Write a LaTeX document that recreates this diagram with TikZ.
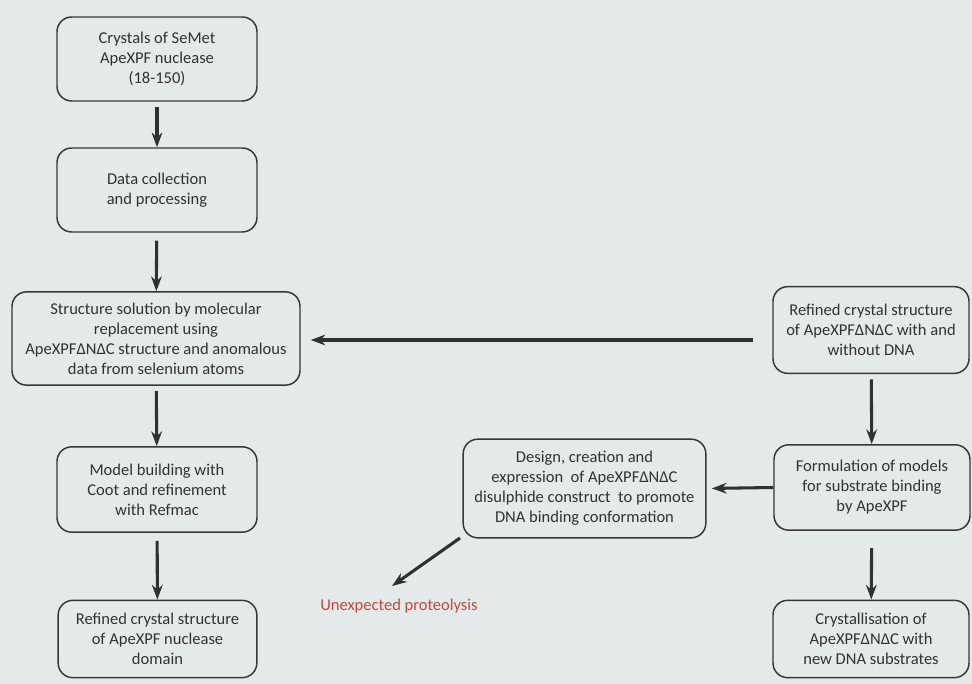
\documentclass[tikz,border=0pt]{standalone}
\usepackage{fontspec}
\setmainfont{Carlito}
\usepackage{xcolor}
\usetikzlibrary{arrows.meta, positioning}

\definecolor{bgcol}{RGB}{228,234,233}
\definecolor{boxline}{RGB}{55,55,55}
\definecolor{txtcol}{RGB}{50,50,50}
\definecolor{redtxt}{RGB}{198,72,60}

\tikzset{
    stage/.style={draw=boxline, line width=1.1pt, rounded corners=11pt,
        align=center, text=txtcol, font=\fontsize{12.4}{15}\selectfont,
        inner sep=2pt},
    flow/.style={-{Stealth[length=11pt, width=8pt]}, line width=2.3pt,
        draw=boxline!90!black}
}

\begin{document}
\begin{tikzpicture}[x=0.75pt, y=-0.75pt]
    % 1. Nền
    \fill[bgcol] (0,0) rectangle (972,684);
    \useasboundingbox (0,0) rectangle (972,684);

    % 2. Cột bên trái
    \node[stage, minimum width=150pt, minimum height=63pt] (cryst) at (157,59)
        {Crystals of SeMet\\ApeXPF nuclease\\(18-150)};
    \node[stage, minimum width=150pt, minimum height=63pt] (datacol) at (157,190)
        {Data collection\\and processing};
    \node[stage, minimum width=216pt, minimum height=70pt] (solution) at (156,338.5)
        {Structure solution by molecular\\replacement using\\ApeXPFΔNΔC structure and anomalous\\data from selenium atoms};
    \node[stage, minimum width=150pt, minimum height=64pt] (model) at (157,489.5)
        {Model building with\\Coot and refinement\\with Refmac};
    \node[stage, minimum width=149pt, minimum height=58pt] (refnuc) at (157.5,639)
        {Refined crystal structure\\of ApeXPF nuclease\\domain};

    % 3. Cột bên phải
    \node[stage, minimum width=147pt, minimum height=65pt] (refdna) at (871,330)
        {Refined crystal structure\\of ApeXPFΔNΔC with and\\without DNA};
    \node[stage, minimum width=147pt, minimum height=64pt] (formul) at (872,487.5)
        {Formulation of models\\for substrate binding\\by ApeXPF};
    \node[stage, minimum width=147pt, minimum height=58pt] (crydna) at (871,639)
        {Crystallisation of\\ApeXPFΔNΔC with\\new DNA substrates};

    % 4. Ô giữa và nhãn
    \node[stage, minimum width=182pt, minimum height=74pt] (design) at (584.5,488.5)
        {Design, creation and\\expression\ \ of ApeXPFΔNΔC\\disulphide construct\ \ to promote\\DNA binding conformation};
    \coordinate (prostart) at (460,538);
    \coordinate (proend) at (392,586);
    \node[text=redtxt, font=\fontsize{12.4}{15}\selectfont] (proteo) at (399,606)
        {Unexpected proteolysis};

    % 5. Mũi tên
    \coordinate (lineR) at (773,340);
    \coordinate (lineL) at (300,340);
    \draw[flow, shorten <=4pt] (cryst) -- (datacol);
    \draw[flow, shorten <=6pt] (datacol) -- (solution);
    \draw[flow, shorten <=4pt] (solution) -- (model);
    \draw[flow, shorten <=6pt] (model) -- (refnuc);
    \draw[flow, shorten <=4pt] (refdna) -- (formul);
    \draw[flow, shorten <=13pt] (formul) -- (crydna);
    \draw[flow, shorten >=4pt] (formul.west) -- (design.east);
    \draw[flow, shorten <=15pt, shorten >=8pt] (lineR) -- (lineL);
    \draw[flow] (prostart) -- (proend);
\end{tikzpicture}
\end{document}
